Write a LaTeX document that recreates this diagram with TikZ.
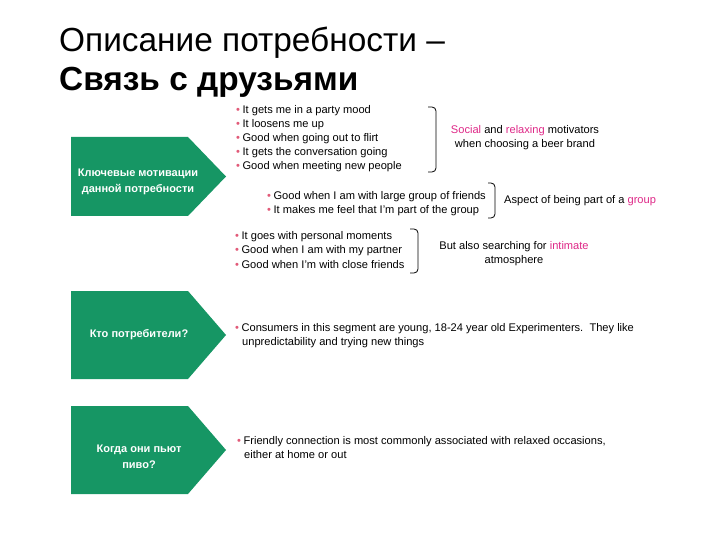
\documentclass[tikz,border=0pt]{standalone}
\usepackage{fontspec}
\setmainfont{Liberation Sans}
\definecolor{grn}{RGB}{22,150,100}
\definecolor{mag}{RGB}{222,40,135}
\definecolor{bul}{RGB}{225,90,120}
\newcommand{\bu}{{\color{bul}\textbullet}\hspace{2.5pt}}
\newcommand{\mg}[1]{\textcolor{mag}{#1}}
\begin{document}
\begin{tikzpicture}[x=1pt,y=-1pt,
  txt/.style={anchor=base west, inner sep=0pt, font=\fontsize{11.1}{12}\selectfont},
  ctxt/.style={anchor=base, inner sep=0pt, font=\fontsize{11.1}{12}\selectfont},
  boxtxt/.style={align=center, inner sep=0pt, text=white, font=\bfseries\fontsize{11}{16}\selectfont},
  arrowbox/.style={fill=grn},
  brk/.style={draw=black, line width=0.8pt, rounded corners=4pt}]
\useasboundingbox (0,0) rectangle (720,540);
% title
\node[anchor=base west, inner sep=0pt, font=\fontsize{33.4}{38}\selectfont] (t1) at (59,52) {Описание потребности –};
\node[anchor=base west, inner sep=0pt, font=\bfseries\fontsize{33.4}{38}\selectfont] (t2) at (59,91) {Связь с друзьями};
% green arrow boxes
\fill[arrowbox] (71,137) -- (188,137) -- (226,176.5) -- (188,216) -- (71,216) -- cycle;
\node[boxtxt] (b1) at (138,182) {Ключевые мотивации\\данной потребности};
\fill[arrowbox] (71,291) -- (188,291) -- (226,335) -- (188,379) -- (71,379) -- cycle;
\node[boxtxt] (b2) at (139,335) {Кто потребители?};
\fill[arrowbox] (71,406) -- (188,406) -- (226,450) -- (188,494) -- (71,494) -- cycle;
\node[boxtxt] (b3) at (139,457) {Когда они пьют\\пиво?};
% group 1
\node[txt] (g1a) at (236,114) {\bu It gets me in a party mood};
\node[txt] (g1b) at (236,128) {\bu It loosens me up};
\node[txt] (g1c) at (236,142) {\bu Good when going out to flirt};
\node[txt] (g1d) at (236,156) {\bu It gets the conversation going};
\node[txt] (g1e) at (236,170) {\bu Good when meeting new people};
\draw[brk] (428,107) -- (436,107) -- (436,172) -- (428,172);
\node[ctxt] (r1a) at (525,134) {\mg{Social} and \mg{relaxing} motivators};
\node[ctxt] (r1b) at (525,148) {when choosing a beer brand};
% group 2
\node[txt] (g2a) at (267,200) {\bu Good when I am with large group of friends};
\node[txt] (g2b) at (267,214) {\bu It makes me feel that I'm part of the group};
\draw[brk] (488,183) -- (495,183) -- (495,218) -- (488,218);
\node[txt] (r2) at (504,204) {Aspect of being part of a \mg{group}};
% group 3
\node[txt] (g3a) at (235,240) {\bu It goes with personal moments};
\node[txt] (g3b) at (235,254) {\bu Good when I am with my partner};
\node[txt] (g3c) at (235,268) {\bu Good when I'm with close friends};
\draw[brk] (410,229) -- (418,229) -- (418,273) -- (410,273);
\node[ctxt] (r3a) at (514,249) {But also searching for \mg{intimate}};
\node[ctxt] (r3b) at (514,263) {atmosphere};
% block 2
\node[txt] (c1) at (235,331) {\bu Consumers in this segment are young, 18-24 year old Experimenters.\ \ They like};
\node[txt] (c2) at (242,345) {unpredictability and trying new things};
% block 3
\node[txt] (d1) at (237,444) {\bu Friendly connection is most commonly associated with relaxed occasions,};
\node[txt] (d2) at (244,458) {either at home or out};
\end{tikzpicture}
\end{document}
